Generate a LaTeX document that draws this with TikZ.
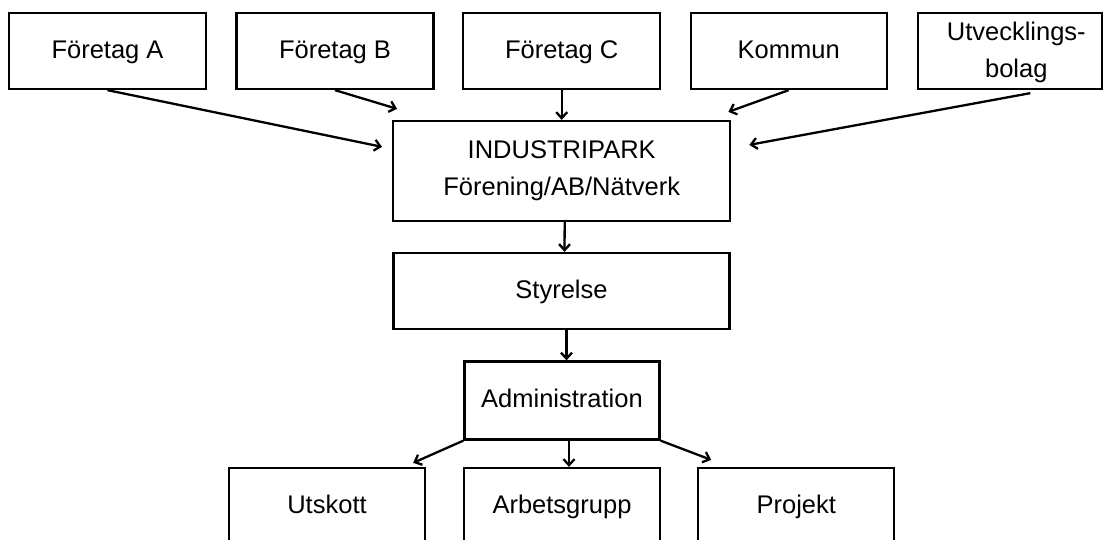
\documentclass[tikz,border=0pt]{standalone}
\usepackage{fontspec}
\setmainfont{Liberation Sans}
\usetikzlibrary{arrows.meta}
\begin{document}
\begin{tikzpicture}[x=1pt,y=-1pt,
  lbl/.style={inner sep=0pt, font=\fontsize{25.5}{37}\selectfont, align=center,
    execute at begin node=\strut, execute at end node=\strut},
  box/.style={draw, line width=2.3pt, minimum height=76pt, lbl},
  conn/.style={line width=2.3pt, -{Straight Barb[length=6pt,width=11pt,line width=2.3pt]}}]
\clip (0,0) rectangle (1103,540);

% members
\node[box, minimum width=197pt] (fa) at (107.5,51) {Företag A};
\node[box, minimum width=197pt] (fb) at (335,51) {Företag B};
\node[box, minimum width=197pt] (fc) at (561.7,51) {Företag C};
\node[box, minimum width=196pt] (ko) at (788.7,51) {Kommun};
\node[box, minimum width=184pt] (ub) at (1010.3,51) {};
\node[lbl] (ubt) at ([shift={(6,4)}]ub.center) {Utvecklings-\\bolag};

% organisation
\node[box, minimum width=337pt, minimum height=100pt] (ip) at (561.7,171) {};
\node[lbl] (ipt) at ([shift={(0,3)}]ip.center) {INDUSTRIPARK\\Förening/AB/Nätverk};
\node[box, minimum width=336pt] (st) at (561.5,291) {Styrelse};
\node[box, minimum width=195pt, minimum height=78pt] (ad) at (562,400.5) {Administration};

% working groups
\node[box, minimum width=196pt] (ut) at (327,506) {Utskott};
\node[box, minimum width=196pt] (ag) at (562,506) {Arbetsgrupp};
\node[box, minimum width=196pt] (pr) at (796.3,506) {Projekt};

% arrow end points around the park box
\coordinate (ipA) at ([shift={(-10,27)}]ip.north west);
\coordinate (ipB) at ([shift={(5,-11)}]ip.north west);
\coordinate (ipK) at ([shift={(-3,-8)}]ip.north east);
\coordinate (ipU) at ([shift={(18,25)}]ip.north east);
\coordinate (ubS) at ([xshift=20pt,yshift=-3pt]ub.south);
\coordinate (utN) at ([shift={(-13,-4)}]ut.north east);
\coordinate (prN) at ([shift={(14,-7)}]pr.north west);

\draw[conn] (fa.south) -- (ipA);
\draw[conn] (fb.south) -- (ipB);
\draw[conn] (fc.south) -- (ip.north);
\draw[conn] (ko.south) -- (ipK);
\draw[conn] (ubS) -- (ipU);
\draw[conn] ([xshift=3pt]ip.south) -- ([xshift=3pt]st.north);
\draw[conn] ([xshift=5pt]st.south) -- ([xshift=5pt]st.south |- ad.north);
\draw[conn] (ad.south west) -- (utN);
\draw[conn] ([xshift=7pt]ad.south) -- ([xshift=7pt]ad.south |- ag.north);
\draw[conn] (ad.south east) -- (prN);
\end{tikzpicture}
\end{document}
